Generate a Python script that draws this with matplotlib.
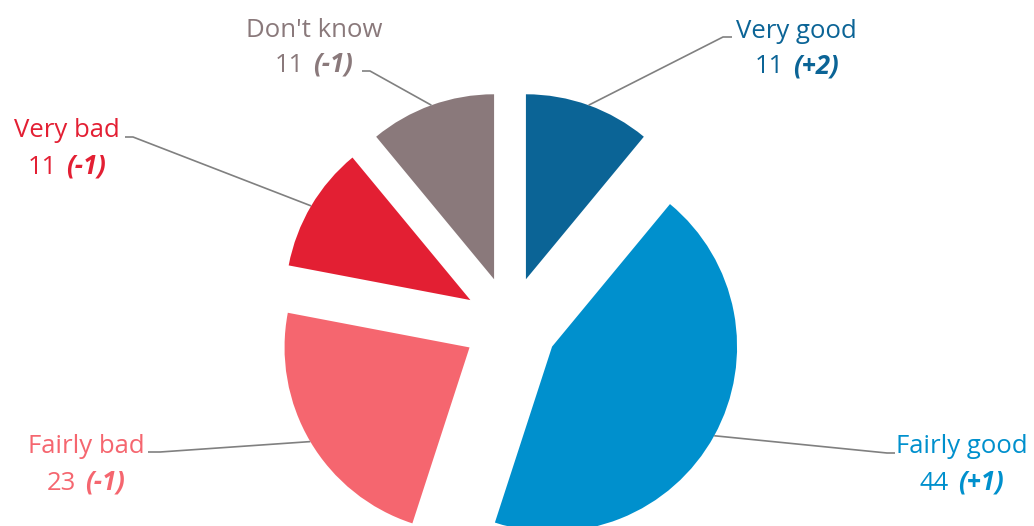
import numpy as np
import matplotlib
matplotlib.use("Agg")
import matplotlib.pyplot as plt

plt.rcParams['font.family'] = ['Open Sans', 'DejaVu Sans']

# ---- data ----
categories = ["Very good", "Fairly good", "Fairly bad", "Very bad", "Don't know"]
values = [11, 44, 23, 11, 11]
changes = ["(+2)", "(+1)", "(-1)", "(-1)", "(-1)"]
colors = ["#0B6496", "#0090CD", "#F5666F", "#E31F33", "#8A797B"]

# ---- layout (pixels on a 1034x526 canvas) ----
W, H = 1034, 526
CX, CY, R = 510, 323.5, 185          # pie centre and radius in pixels
explode_px = [47, 48, 47, 46, 47]
# label anchors: (centre x, baseline line1, baseline line2)
label_pos = [(796.5, 38.3, 73.3), (962, 453.3, 490), (86, 452.7, 490),
             (67, 136.7, 174), (314, 36.7, 71.7)]
# leader: (text-side point, elbow point)
leader_pts = [((732, 37), (723, 37)), ((895, 453), (887, 453)),
              ((148, 452), (160, 452)), ((125, 137), (133, 137)),
              ((362, 71), (370, 71))]

def P(px, py):
    return ((px - CX) / R, (CY - py) / R)

fig = plt.figure(figsize=(W / 100, H / 100), dpi=100)
ax = fig.add_axes([0, 0, 1, 1])

wedges, _ = ax.pie(values, colors=colors, startangle=90, counterclock=False,
                   radius=1, center=(0, 0),
                   explode=[e / R for e in explode_px],
                   wedgeprops=dict(linewidth=0))
ax.set_xlim(-CX / R, (W - CX) / R)
ax.set_ylim((CY - H) / R, CY / R)
ax.set_aspect('auto')
ax.axis('off')

fs = 18.5
fig.canvas.draw()
rend = fig.canvas.get_renderer()

for w, cat, val, chg, col, (lx, b1, b2), (tp, ep) in zip(
        wedges, categories, values, changes, colors, label_pos, leader_pts):
    # leader line to the arc midpoint
    th = np.deg2rad((w.theta1 + w.theta2) / 2)
    mx = w.center[0] + w.r * np.cos(th)
    my = w.center[1] + w.r * np.sin(th)
    p1, p2 = P(*tp), P(*ep)
    ax.plot([p1[0], p2[0], mx], [p1[1], p2[1], my], color="#808080",
            lw=1.2, solid_capstyle='butt', zorder=1)
    # line 1
    ax.text(*P(lx, b1), cat, color=col, fontsize=fs, ha='center', va='baseline')
    # line 2: regular value + bold italic change
    t1 = ax.text(0, 0, str(val), color=col, fontsize=fs, ha='left', va='baseline')
    t2 = ax.text(0, 0, chg, color=col, fontsize=fs, ha='left', va='baseline',
                 fontweight='bold', fontstyle='italic')
    w1 = t1.get_window_extent(rend).width
    w2 = t2.get_window_extent(rend).width
    gap = 9
    x0 = lx - (w1 + gap + w2) / 2
    t1.set_position(P(x0, b2))
    t2.set_position(P(x0 + w1 + gap, b2))

fig.savefig("out.png", dpi=100)
